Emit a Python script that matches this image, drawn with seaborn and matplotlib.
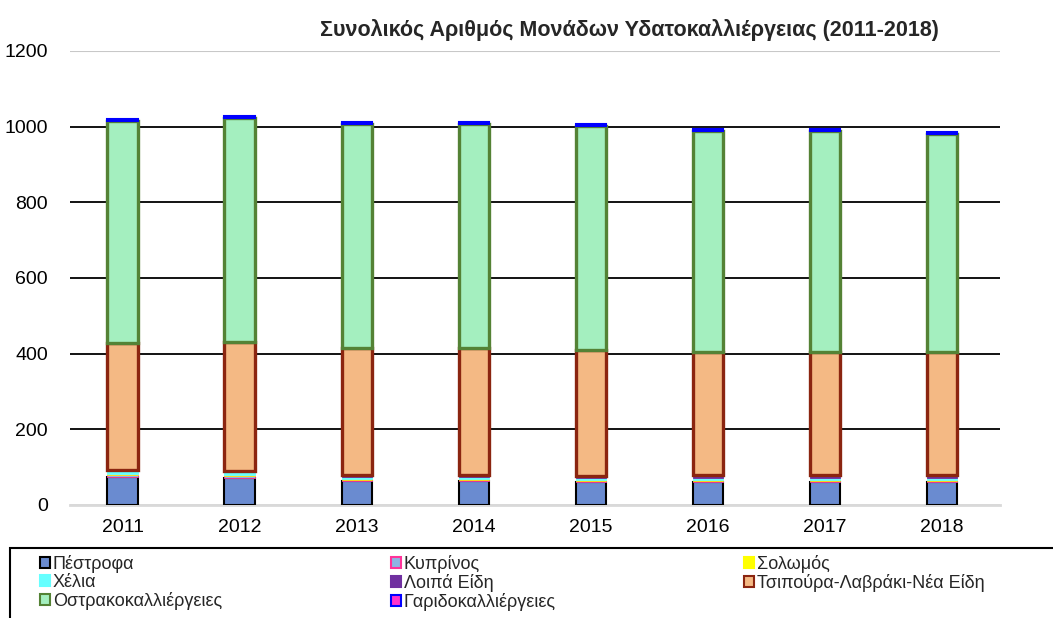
import matplotlib
matplotlib.use("Agg")
import matplotlib.pyplot as plt
from matplotlib.patches import Patch, Rectangle
import seaborn as sns

# Data (units per species group)
years = ["2011", "2012", "2013", "2014", "2015", "2016", "2017", "2018"]
pestrofa = [74, 72, 62, 62, 60, 60, 60, 60]
kyprinos = [4, 4, 3, 3, 3, 3, 3, 3]
solomos = [3, 3, 3, 3, 3, 3, 3, 3]
chelia = [8, 8, 5, 5, 5, 5, 5, 5]
loipa = [3, 3, 5, 5, 6, 7, 7, 7]
tsipoura = [336, 340, 338, 338, 333, 325, 325, 325]
ostrako = [588, 594, 592, 592, 592, 586, 586, 578]
garido = [4, 4, 4, 4, 4, 4, 4, 4]

series_names = ["Πέστροφα", "Κυπρίνος", "Σολωμός", "Χέλια", "Λοιπά Είδη",
                "Τσιπούρα-Λαβράκι-Νέα Είδη", "Οστρακοκαλλιέργειες", "Γαριδοκαλλιέργειες"]
series_values = [pestrofa, kyprinos, solomos, chelia, loipa, tsipoura, ostrako, garido]
fills = ["#6a8bd0", "#8eb4e3", "#ffff00", "#66ffff", "#7030a0", "#f4b984", "#a4efbf", "#ff33cc"]
edges = ["#000000", "#ff3399", "#ffff00", "#66ffff", "#7030a0", "#8b2510", "#548235", "#0000ff"]
widths = [1.5, 0.6, 0.4, 0.6, 0.6, 2.4, 2.4, 1.5]

sns.set_style("white")
plt.rcParams["font.family"] = ["Liberation Sans", "DejaVu Sans"]

fig = plt.figure(figsize=(10.53, 6.18), dpi=100)
ax = fig.add_axes([0.0665, 0.183, 0.8835, 0.7345])

bottom = [0] * len(years)
for name, vals, fc, ec, lw in zip(series_names, series_values, fills, edges, widths):
    sns.barplot(x=years, y=vals, bottom=bottom, color=fc, edgecolor=ec,
                linewidth=lw, width=0.26, saturation=1, ax=ax, zorder=3)
    bottom = [b + v for b, v in zip(bottom, vals)]

ax.set_ylim(0, 1200)
ax.set_xlim(-0.45, 7.5)
ax.set_yticks(range(0, 1201, 200))
ax.grid(axis="y", color="black", linewidth=1.3, zorder=0)
ax.set_axisbelow(True)
gl = ax.get_ygridlines()
gl[0].set_color("#d9d9d9")
gl[-1].set_color("#c8c8c8")
gl[-1].set_linewidth(1.5)
for s in ["left", "right", "top"]:
    ax.spines[s].set_visible(False)
ax.spines["bottom"].set_color("#d9d9d9")
ax.spines["bottom"].set_linewidth(2)
ax.tick_params(axis="both", length=0, labelsize=14, colors="black")
ax.tick_params(axis="x", pad=10)
ax.tick_params(axis="y", pad=16)
ax.set_xlabel("")
ax.set_ylabel("")

fig.text(629 / 1053, 1 - 30 / 618,
         "Συνολικός Αριθμός Μονάδων Υδατοκαλλιέργειας (2011-2018)",
         ha="center", va="center", fontsize=15.5, fontweight="bold")

# legend frame runs past the figure edge like the original
fig.patches.append(Rectangle((10 / 1053, -0.1), 1.2, 0.1 + 1 - 548 / 618,
                             transform=fig.transFigure, fill=False,
                             edgecolor="black", linewidth=1.5))

handles = [Patch(facecolor=fc, edgecolor=ec, linewidth=1.5, label=n)
           for n, fc, ec in zip(series_names, fills, edges)]
# one legend per column, entries read row by row as in the original
columns = [[0, 3, 6], [1, 4, 7], [2, 5]]
col_x = [40, 391, 744]
for idx, x in zip(columns, col_x):
    leg = fig.legend([handles[i] for i in idx], [series_names[i] for i in idx],
                     loc="upper left", bbox_to_anchor=(x / 1053, 1 - 555 / 618),
                     frameon=False, fontsize=13, handlelength=0.55, handleheight=0.55,
                     handletextpad=0.15, labelspacing=0.05,
                     borderpad=0, borderaxespad=0)

fig.savefig("out.png", dpi=100)
